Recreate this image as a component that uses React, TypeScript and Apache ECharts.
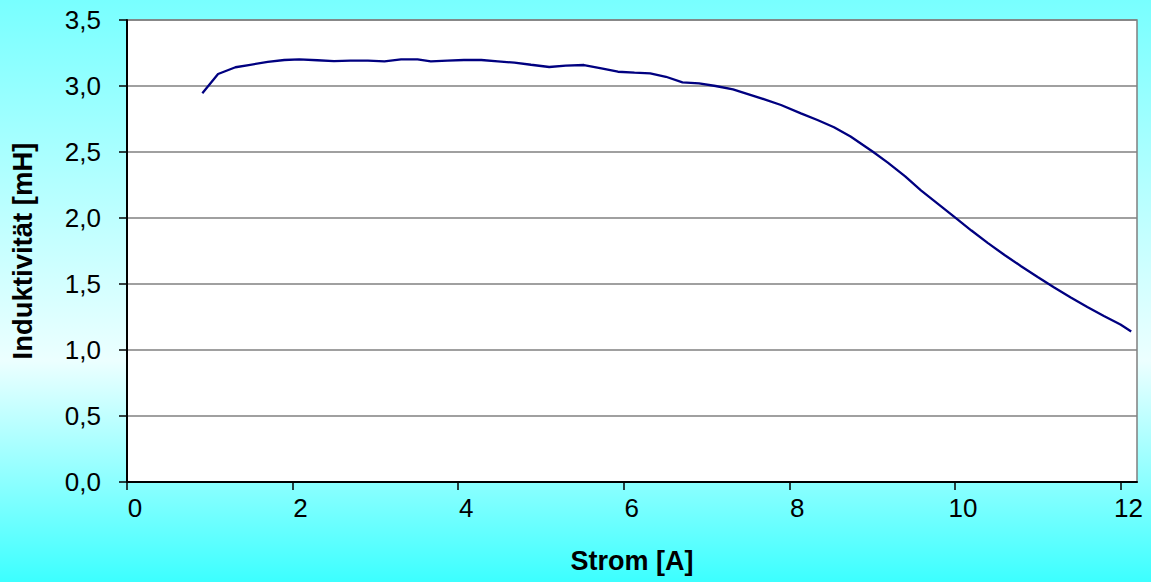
import React, { useEffect, useRef } from "react";
import * as echarts from "echarts";

// Strom [A]
const stromA = [
  0.91, 1.1, 1.31, 1.47, 1.7, 1.9, 2.08, 2.3, 2.5, 2.7, 2.91, 3.11, 3.31, 3.51, 3.67, 3.87, 4.07,
  4.28, 4.48, 4.68, 4.88, 5.1, 5.3, 5.52, 5.73, 5.93, 6.13, 6.32, 6.51, 6.71, 6.91, 7.11, 7.32,
  7.5, 7.7, 7.9, 8.14, 8.34, 8.54, 8.74, 9.01, 9.19, 9.4, 9.59, 9.83, 10.02, 10.2, 10.4, 10.6,
  10.8, 11.0, 11.2, 11.4, 11.6, 11.8, 12.0, 12.13,
];
// Induktivität [mH]
const induktivitaetMH = [
  2.945, 3.091, 3.142, 3.159, 3.182, 3.197, 3.202, 3.195, 3.189, 3.192, 3.192, 3.187, 3.202,
  3.202, 3.187, 3.192, 3.197, 3.197, 3.187, 3.177, 3.161, 3.144, 3.154, 3.159, 3.134, 3.108,
  3.101, 3.096, 3.07, 3.028, 3.02, 3.0, 2.975, 2.939, 2.899, 2.856, 2.793, 2.742, 2.687, 2.617,
  2.502, 2.42, 2.315, 2.21, 2.09, 1.995, 1.905, 1.81, 1.72, 1.635, 1.553, 1.473, 1.397,
  1.326, 1.258, 1.193, 1.14,
];
const xTicks = [0, 2, 4, 6, 8, 10, 12];
const xTitle = "Strom [A]";
const yTitle = "Induktivität [mH]";

const FONT = "'Liberation Sans', Arial, sans-serif";

export default function App() {
  const ref = useRef<HTMLDivElement>(null);
  useEffect(() => {
    const chart = echarts.init(ref.current as HTMLDivElement, null, { renderer: "svg" });
    chart.setOption({
      animation: false,
      backgroundColor: new echarts.graphic.LinearGradient(0, 0, 0, 1, [
        { offset: 0, color: "#78FFFF" },
        { offset: 0.62, color: "#ECFFFF" },
        { offset: 1, color: "#3CFFFF" },
      ]),
      grid: {
        left: 127,
        top: 20,
        right: 14,
        bottom: 100,
        show: true,
        backgroundColor: "#ffffff",
        borderColor: "#808080",
        borderWidth: 1.5,
      },
      xAxis: {
        type: "value",
        min: 0,
        max: 12.2,
        name: xTitle,
        nameLocation: "middle",
        nameGap: 65,
        nameTextStyle: { fontFamily: FONT, fontSize: 27, fontWeight: "bold", color: "#000" },
        axisLine: { show: true, onZero: false, lineStyle: { color: "#000", width: 2 } },
        axisTick: { show: true, length: 8, customValues: xTicks, lineStyle: { color: "#000", width: 1.5 } },
        axisLabel: {
          customValues: xTicks,
          fontFamily: FONT,
          fontSize: 26,
          color: "#000",
          margin: 13,
          padding: [0, 0, 0, 16],
        },
        splitLine: { show: false },
      },
      yAxis: {
        type: "value",
        min: 0,
        max: 3.5,
        interval: 0.5,
        name: yTitle,
        nameLocation: "middle",
        nameGap: 91,
        nameTextStyle: { fontFamily: FONT, fontSize: 27.5, fontWeight: "bold", color: "#000" },
        axisLine: { show: true, lineStyle: { color: "#000", width: 2 } },
        axisTick: { show: true, length: 8, lineStyle: { color: "#000", width: 1.5 } },
        axisLabel: {
          fontFamily: FONT,
          fontSize: 26,
          color: "#000",
          margin: 26,
          formatter: (v: number) => v.toFixed(1).replace(".", ","),
        },
        splitLine: { show: true, lineStyle: { color: "#808080", width: 1.5 } },
      },
      series: [
        {
          type: "line",
          data: stromA.map((x, i) => [x, induktivitaetMH[i]]),
          showSymbol: false,
          symbol: "none",
          lineStyle: { color: "#000080", width: 2.3 },
        },
      ],
    });
    return () => chart.dispose();
  }, []);
  return (
    <div
      ref={ref}
      style={{ position: "absolute", left: 0, top: 0, width: 1151, height: 582 }}
    />
  );
}
